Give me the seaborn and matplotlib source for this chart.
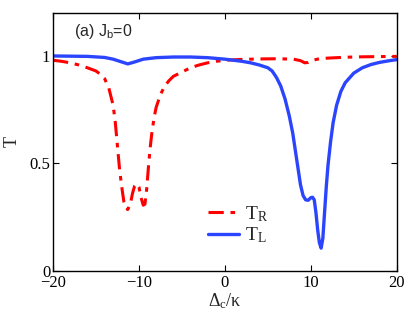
import numpy as np
import pandas as pd
import matplotlib
matplotlib.use("Agg")
import matplotlib.pyplot as plt
import seaborn as sns

# Transmission
tr_x = [-20, -19, -18, -17, -16, -15, -14.5, -14, -13.5, -13, -12.75, -12.5, -12.25, -12,
        -11.75, -11.5, -11.3, -11.0, -10.75, -10.5, -10.25, -10.0, -9.75, -9.5, -9.3, -9.1,
        -8.9, -8.7, -8.5, -8.25, -8.0, -7.5, -7, -6.5, -6, -5, -4, -3, -2, -1, 0, 2, 4, 6,
        8, 8.8, 9.3, 9.7, 10.2, 11, 12, 14, 16, 18, 20]
tr_y = [0.98, 0.975, 0.968, 0.958, 0.945, 0.93, 0.915, 0.895, 0.85, 0.77, 0.69, 0.58, 0.47, 0.39,
        0.32, 0.29, 0.285, 0.31, 0.36, 0.395, 0.405, 0.39, 0.34, 0.305, 0.31, 0.38,
        0.48, 0.57, 0.64, 0.71, 0.76, 0.82, 0.86, 0.885, 0.905, 0.925, 0.945, 0.958, 0.968, 0.975, 0.98, 0.984, 0.986, 0.987,
        0.985, 0.978, 0.968, 0.97, 0.98, 0.987, 0.99, 0.994, 0.996, 0.997, 0.998]

tl_x = [-20, -16, -14, -13, -12, -11.3, -10.5, -9.5, -8, -6, -4, -2, 0, 1, 2, 3, 4, 5, 5.5,
        6, 6.5, 7, 7.5, 7.9, 8.2, 8.5, 8.8, 9.1, 9.4, 9.7, 10.0, 10.2, 10.4, 10.6, 10.8,
        11.0, 11.2, 11.4, 11.6, 11.8, 12.0, 12.3, 12.6, 13, 13.5, 14, 15, 16, 17, 18, 19, 20]
tl_y = [1.0, 0.998, 0.993, 0.985, 0.972, 0.963, 0.972, 0.985, 0.992, 0.995, 0.995, 0.992, 0.985, 0.98, 0.975, 0.968, 0.958, 0.945, 0.93,
        0.90, 0.86, 0.80, 0.72, 0.64, 0.56, 0.48, 0.40, 0.35, 0.33, 0.328, 0.34, 0.342, 0.33, 0.27, 0.19,
        0.13, 0.105, 0.15, 0.27, 0.39, 0.49, 0.60, 0.69, 0.77, 0.835, 0.875, 0.92, 0.945, 0.96, 0.97, 0.977, 0.983]

x_ticks = [-20, -10, 0, 10, 20]
y_ticks = [0, 0.5, 1]
y_tick_labels = ["0", "0.5", "1"]

sns.set_style("ticks")
plt.rcParams["font.family"] = ["Liberation Serif", "DejaVu Serif"]
plt.rcParams["mathtext.fontset"] = "custom"
plt.rcParams["mathtext.rm"] = "Liberation Serif"
plt.rcParams["mathtext.it"] = "Liberation Serif:italic"
plt.rcParams["mathtext.sf"] = "Liberation Sans"
plt.rcParams["mathtext.default"] = "regular"

df_r = pd.DataFrame({"x": tr_x, "T": tr_y})
df_l = pd.DataFrame({"x": tl_x, "T": tl_y})

fig = plt.figure(figsize=(4.09, 3.21), dpi=100)
ax = fig.add_axes([0.1296, 0.1567, 0.8404, 0.8028])

sns.lineplot(data=df_r, x="x", y="T", ax=ax, color="#ff0000", lw=2.2,
             label=r"$\mathrm{T_R}$")
ax.lines[-1].set_dashes([5, 2.2, 1.5, 2.2])
sns.lineplot(data=df_l, x="x", y="T", ax=ax, color="#2b45ff", lw=2.4,
             label=r"$\mathrm{T_L}$")

ax.set_xlim(-20, 20)
ax.set_ylim(0, 1.2)
ax.set_xticks(x_ticks)
ax.set_xticklabels([str(v).replace("-", "\u2212") for v in x_ticks])
ax.set_yticks(y_ticks)
ax.set_yticklabels(y_tick_labels)
ax.tick_params(direction="in", length=4, width=0.8, top=True, right=True,
               labelsize=12, pad=2, colors="black")
ax.tick_params(axis="x", pad=3)
for s in ax.spines.values():
    s.set_linewidth(1.0)
    s.set_color("black")

ax.set_xlabel(r"$\Delta_c/\kappa$", fontsize=13, labelpad=0)
ax.set_ylabel("T", fontsize=13, labelpad=6)

ax.text(0.06, 0.93, r"(a) $\mathsf{J_b}$=0", transform=ax.transAxes,
        fontsize=11.5, family="Liberation Sans", va="center")

leg = ax.legend(loc="lower left", bbox_to_anchor=(0.40, 0.03), frameon=False,
                fontsize=14, handlelength=1.6, handletextpad=0.3, labelspacing=0.1)

fig.savefig("out.png", dpi=100)
